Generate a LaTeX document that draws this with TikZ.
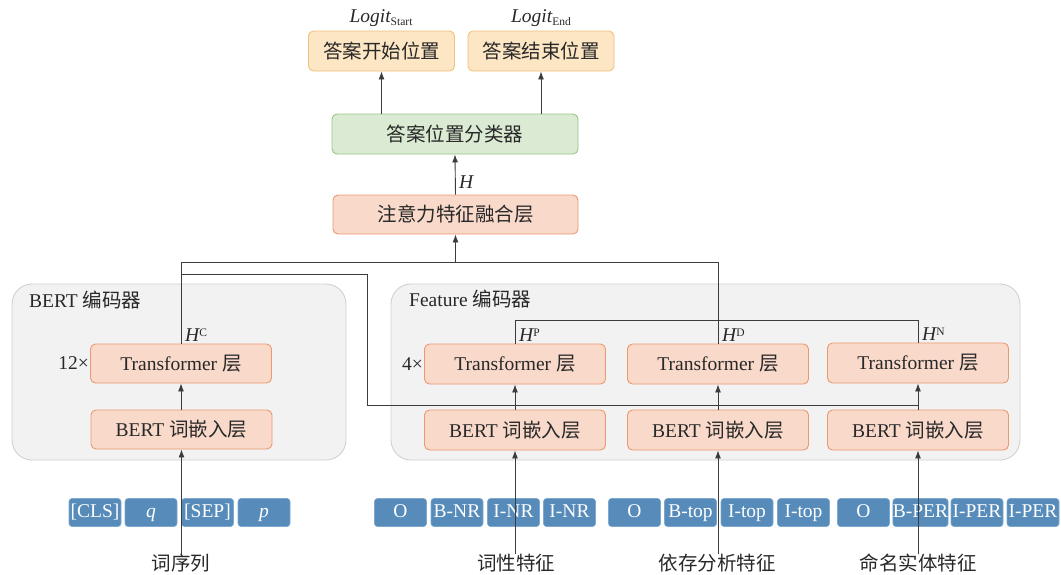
\documentclass[tikz,border=0pt]{standalone}
\usepackage{fontspec}
\setmainfont{Liberation Serif}
\newfontfamily\cjk{Noto Sans CJK SC}
\usetikzlibrary{arrows.meta}
\definecolor{ansfill}{RGB}{252,230,196}
\definecolor{ansdraw}{RGB}{240,194,122}
\definecolor{clsfill}{RGB}{219,235,211}
\definecolor{clsdraw}{RGB}{150,196,132}
\definecolor{salfill}{RGB}{248,217,202}
\definecolor{saldraw}{RGB}{236,152,112}
\definecolor{grpfill}{RGB}{242,242,242}
\definecolor{grpdraw}{RGB}{208,208,208}
\definecolor{tokfill}{RGB}{86,139,186}
\definecolor{tokdraw}{RGB}{125,168,207}
\definecolor{txt}{RGB}{40,40,40}
\definecolor{ln}{RGB}{60,60,60}
\newcommand\hlab[1]{{\itshape H}\raisebox{0.55ex}{\fontsize{11.5}{12}\selectfont #1}}
\newcommand\logitlab[1]{{\itshape Logit}\raisebox{-0.35ex}{\fontsize{11.5}{12}\selectfont #1}}
\begin{document}
\begin{tikzpicture}[x=1pt,y=-1pt,
  every node/.style={font=\fontsize{19.5}{22}\selectfont, text=txt},
  blk/.style={draw, rounded corners=5pt, line width=0.9pt, minimum height=39pt, inner sep=0pt},
  ansbox/.style={blk, fill=ansfill, draw=ansdraw, minimum width=146pt, minimum height=40pt},
  clsbox/.style={blk, fill=clsfill, draw=clsdraw, minimum width=246pt, minimum height=40pt},
  salbox/.style={blk, fill=salfill, draw=saldraw, minimum width=181pt},
  grp/.style={fill=grpfill, draw=grpdraw, line width=0.9pt, rounded corners=20pt},
  tok/.style={fill=tokfill, draw=tokdraw, line width=0.6pt, rounded corners=3pt, minimum width=52pt, minimum height=28pt, inner sep=0pt, text=white, text height=13pt, text depth=4pt},
  lab/.style={inner sep=0pt},
  arr/.style={draw=ln, line width=0.9pt, -{Latex[length=8pt,width=6pt]}},
  ln/.style={draw=ln, line width=0.9pt}
]
\useasboundingbox (0,0) rectangle (1061,574);

% groups
\draw[grp] (12,284) rectangle (346,460);
\draw[grp] (391,284) rectangle (1020,460);
\node[anchor=west, inner sep=0pt] (gbl) at (29,300) {BERT {\cjk 编码器}};
\node[anchor=west, inner sep=0pt] (gfl) at (409,299) {Feature {\cjk 编码器}};

% top boxes
\node[ansbox] (ansS) at (381.5,51) {\cjk 答案开始位置};
\node[ansbox] (ansE) at (541,51) {\cjk 答案结束位置};
\node[inner sep=0pt] (lgS) at (381,18) {\logitlab{Start}};
\node[inner sep=0pt] (lgE) at (541,18) {\logitlab{End}};
\node[clsbox] (cls) at (455,134) {\cjk 答案位置分类器};
\node[salbox, minimum width=245pt] (fuse) at (455.5,214.5) {\cjk 注意力特征融合层};
\node[anchor=west, inner sep=0pt] (hH) at (459,182) {{\itshape H}};

% BERT encoder
\node[salbox] (bt) at (181,363.5) {Transformer {\cjk 层}};
\node[salbox] (be) at (181.5,429.5) {BERT {\cjk 词嵌入层}};
\node[anchor=east, inner sep=1pt] (n12) at (bt.west) {12×};

% Feature encoder
\node[salbox, minimum height=40pt] (ft1) at (515,364) {Transformer {\cjk 层}};
\node[salbox, minimum height=40pt] (ft2) at (718,364) {Transformer {\cjk 层}};
\node[salbox, minimum height=40pt] (ft3) at (918,363) {Transformer {\cjk 层}};
\node[salbox, minimum height=40pt] (fe1) at (515,430) {BERT {\cjk 词嵌入层}};
\node[salbox, minimum height=40pt] (fe2) at (718,430) {BERT {\cjk 词嵌入层}};
\node[salbox, minimum height=40pt] (fe3) at (918,430) {BERT {\cjk 词嵌入层}};
\node[anchor=east, inner sep=1pt] (n4) at (ft1.west) {4×};

% H labels
\node[anchor=south west, inner sep=2pt, xshift=2pt] (hc) at (bt.north) {\hlab{C}};
\node[anchor=south west, inner sep=2pt, xshift=2pt] (hp) at (ft1.north) {\hlab{P}};
\node[anchor=south west, inner sep=2pt, xshift=2pt] (hd) at (ft2.north) {\hlab{D}};
\node[anchor=south west, inner sep=2pt, xshift=2pt] (hn) at (ft3.north) {\hlab{N}};

% tokens
\node[tok] (a1) at (95,512.5) {[CLS]};
\node[tok] (a2) at (151,512.5) {\itshape q};
\node[tok] (a3) at (207.5,512.5) {[SEP]};
\node[tok] (a4) at (264,512.5) {\itshape p};
\node[tok] (b1) at (400.5,512.5) {O};
\node[tok] (b2) at (457,512.5) {B-NR};
\node[tok] (b3) at (513.5,512.5) {I-NR};
\node[tok] (b4) at (569.5,512.5) {I-NR};
\node[tok] (c1) at (634.5,512.5) {O};
\node[tok] (c2) at (690.5,512.5) {B-top};
\node[tok] (c3) at (747,512.5) {I-top};
\node[tok] (c4) at (803.5,512.5) {I-top};
\node[tok] (d1) at (863.5,512.5) {O};
\node[tok] (d2) at (920.5,512.5) {B-PER};
\node[tok] (d3) at (977,512.5) {I-PER};
\node[tok] (d4) at (1033,512.5) {I-PER};

% bottom labels
\node[lab] (l1) at (181,563) {\cjk 词序列};
\node[lab] (l2) at (516,563) {\cjk 词性特征};
\node[lab] (l3) at (717,563) {\cjk 依存分析特征};
\node[lab] (l4) at (918,563) {\cjk 命名实体特征};

% helper coordinates
\coordinate (y262) at (0,262);
\coordinate (y274) at (0,274);
\coordinate (y320) at (0,320);
\coordinate (y405) at (0,405);
\coordinate (k1) at (367,274);
\coordinate (k2) at (367,405);

% arrows top
\draw[arr] (ansS.south |- cls.north) -- (ansS.south);
\draw[arr] (ansE.south |- cls.north) -- (ansE.south);
\draw[arr] (fuse.north) -- (cls.south);
\draw[arr] (fuse.south |- y262) -- (fuse.south);

% fusion lines
\draw[ln] (bt.north) -- (bt.north |- y262) -- (ft2.north |- y262) -- (ft2.north);
\draw[ln] (ft1.north) -- (ft1.north |- y320) -- (ft3.north |- y320) -- (ft3.north);
\draw[ln] (bt.north |- y274) -- (k1) -- (k2) -- (ft3.south |- y405);

% inner arrows
\draw[arr] (be.north -| bt.south) -- (bt.south);
\draw[arr] (fe1.north) -- (ft1.south);
\draw[arr] (fe2.north) -- (ft2.south);
\draw[arr] (fe3.north) -- (ft3.south);

% input arrows
\draw[arr] (be.south |- l1.north) -- (be.south);
\draw[arr] (fe1.south |- l2.north) -- (fe1.south);
\draw[arr] (fe2.south |- l3.north) -- (fe2.south);
\draw[arr] (fe3.south |- l4.north) -- (fe3.south);
\end{tikzpicture}
\end{document}
